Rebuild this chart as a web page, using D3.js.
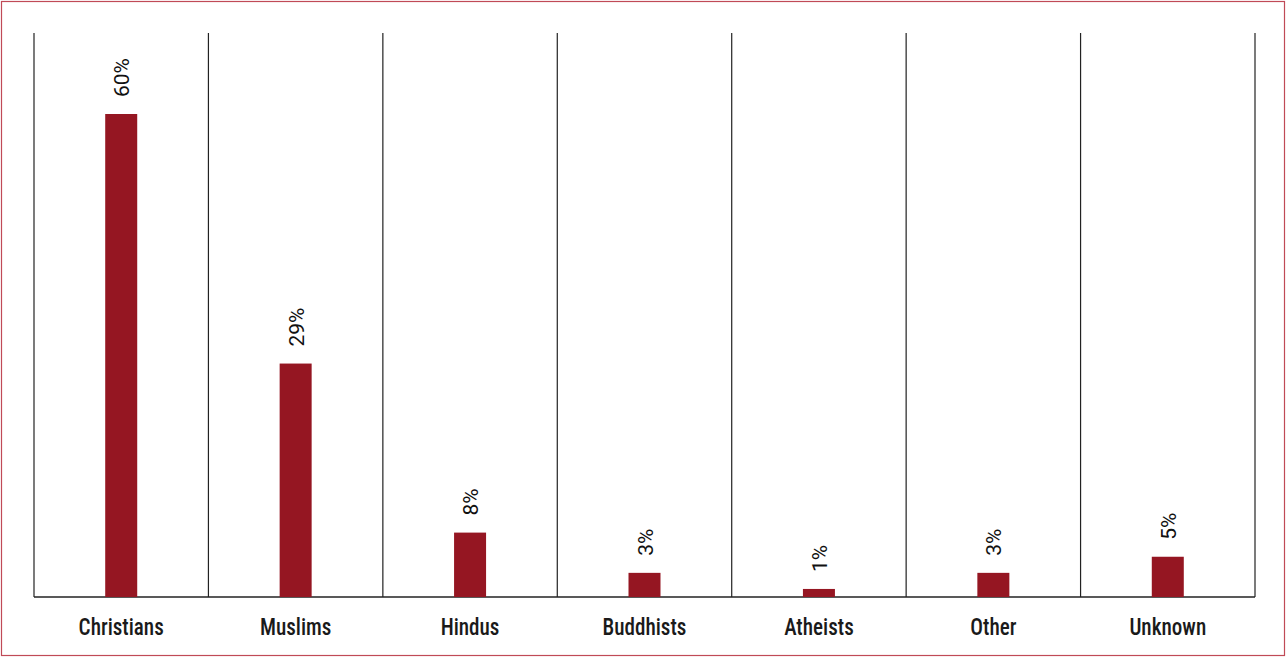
<!DOCTYPE html>
<html><head><meta charset="utf-8">
<script src="https://cdn.jsdelivr.net/npm/d3@7"></script>
<style>body{margin:0;background:#fff}svg{display:block}</style>
</head><body>
<script>
const categories = ["Christians","Muslims","Hindus","Buddhists","Atheists","Other","Unknown"];
const values = [60,29,8,3,1,3,5];
const valueLabels = ["60%","29%","8%","3%","1%","3%","5%"];

const W = 1286, H = 657;
const svg = d3.select("body").append("svg").attr("width", W).attr("height", H);
svg.append("rect").attr("x",1.5).attr("y",1.5).attr("width",W-3).attr("height",H-3)
  .attr("fill","none").attr("stroke","#c04a57").attr("stroke-width",1.2);

const x = d3.scaleBand().domain(categories).range([34,1255]);
const y = d3.scaleLinear().domain([0,60]).range([597,114]);
const gridTop = 33;

const g = svg.append("g");
const edges = categories.map(c => x(c)).concat([x.range()[1]]);
g.selectAll("line.sep").data(edges).join("line")
  .attr("x1",d=>d).attr("x2",d=>d).attr("y1",gridTop).attr("y2",y(0))
  .attr("stroke","#222").attr("stroke-width",1.2);
g.append("line").attr("x1",34).attr("x2",1255).attr("y1",y(0)).attr("y2",y(0))
  .attr("stroke","#222").attr("stroke-width",1.5);

const bw = 32;
g.selectAll("rect.bar").data(values).join("rect")
  .attr("x",(d,i)=>x(categories[i])+x.bandwidth()/2-bw/2)
  .attr("width",bw)
  .attr("y",d=>y(d)).attr("height",d=>y(0)-y(d))
  .attr("fill","#951622");

g.selectAll("text.val").data(values).join("text")
  .attr("transform",(d,i)=>`translate(${x(categories[i])+x.bandwidth()/2+8},${y(d)-17}) rotate(-90)`)
  .attr("font-family","Roboto, 'DejaVu Sans', sans-serif")
  .attr("font-size",21).attr("fill","#111")
  .text((d,i)=>valueLabels[i]);

const xAxis = d3.axisBottom(x).tickSize(0).tickPadding(21);
const ax = svg.append("g").attr("transform",`translate(0,${y(0)})`).call(xAxis);
ax.select(".domain").remove();
ax.selectAll("text").attr("font-family","'Liberation Sans Narrow', 'Roboto Condensed', Roboto, sans-serif")
  .attr("font-size",22).attr("font-weight",500).attr("fill","#1a1a1a")
  .attr("transform","scale(0.96,1.05)")
  .style("font-stretch","condensed");
</script>
</body></html>
